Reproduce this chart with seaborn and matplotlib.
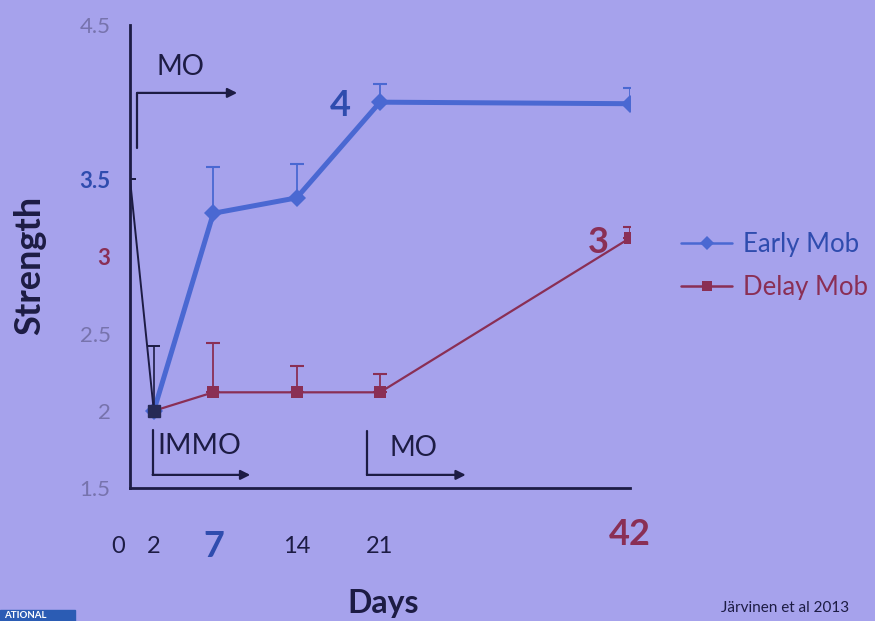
import matplotlib.pyplot as plt
import matplotlib.lines as mlines
import matplotlib.patches as mpatches
from matplotlib.transforms import ScaledTranslation
import seaborn as sns

# values
days = [2, 7, 14, 21, 42]
early_mob = [2.0, 3.28, 3.38, 4.0, 3.99]
early_err = [0.0, 0.30, 0.22, 0.12, 0.10]
delay_mob = [2.0, 2.12, 2.12, 2.12, 3.12]
delay_err = [0.0, 0.32, 0.17, 0.12, 0.07]
base_days = [0, 2]
base_vals = [3.5, 2.0]
base_err = [0.0, 0.42]

xtick_pos = [0, 2, 7, 14, 21, 28, 35, 42]
xtick_lab = ['0', '2', '7', '14', '21', '', '', '42']
ytick_pos = [1.5, 2, 2.5, 3, 3.5, 4, 4.5]
ytick_lab = ['1.5', '2', '2.5', '3', '3.5', '', '4.5']

BG = '#a6a2ec'
NAVY = '#1d1c44'
BLUE = '#4a68d2'
BLUE_TXT = '#2f4cae'
RED = '#8a2f55'
GREY = '#7773ad'

sns.set_theme(style='white', rc={'axes.facecolor': BG, 'figure.facecolor': BG})
plt.rcParams['font.family'] = ['Lato', 'DejaVu Sans']

fig = plt.figure(figsize=(8.75, 6.21), dpi=100)
ax = fig.add_axes([130/875, 1-488/621, 500/875, 463/621])

# early mobilisation (thick blue, diamonds)
sns.lineplot(x=days, y=early_mob, ax=ax, color=BLUE, linewidth=3.6, marker='D',
             markersize=9, markeredgewidth=0, zorder=3)
ax.errorbar(days, early_mob, yerr=[[0]*len(early_err), early_err], fmt='none',
            ecolor=BLUE, elinewidth=1.3, capsize=5, capthick=1.5, zorder=2)

# delayed mobilisation (thin red, squares)
sns.lineplot(x=days, y=delay_mob, ax=ax, color=RED, linewidth=1.6, marker='s',
             markersize=9, markeredgewidth=0, zorder=3)
ax.errorbar(days, delay_mob, yerr=[[0]*len(delay_err), delay_err], fmt='none',
            ecolor=RED, elinewidth=1.3, capsize=5, capthick=1.5, zorder=2)

# baseline drop to immobilisation
sns.lineplot(x=base_days, y=base_vals, ax=ax, color=NAVY, linewidth=1.4, zorder=4)
ax.plot(base_days[1:], base_vals[1:], 's', color='#262a55', markersize=9, zorder=5)
ax.errorbar(base_days, base_vals, yerr=[[0]*len(base_err), base_err], fmt='none',
            ecolor=NAVY, elinewidth=1.2, capsize=4, capthick=1.4, zorder=4)

ax.set_xlim(0, 42)
ax.set_ylim(1.5, 4.5)
for s in ['top', 'right']:
    ax.spines[s].set_visible(False)
for s in ['left', 'bottom']:
    ax.spines[s].set_color(NAVY)
    ax.spines[s].set_linewidth(2)

ax.set_xticks(xtick_pos)
ax.set_xticklabels(xtick_lab)
ax.set_yticks(ytick_pos)
ax.set_yticklabels(ytick_lab)
ax.tick_params(axis='x', direction='out', length=5, width=2, color=NAVY, pad=37,
               labelsize=17, labelcolor=NAVY)
ax.tick_params(axis='y', direction='out', length=5, width=2, color=NAVY, pad=9,
               labelsize=16, labelcolor=GREY)
ax.xaxis.get_major_ticks()[0].tick1line.set_visible(False)
ax.xaxis.get_major_ticks()[1].tick1line.set_visible(False)

for lab in ax.get_xticklabels():
    lab.set_va('center')
    if lab.get_text() == '7':
        lab.set(color=BLUE_TXT, fontsize=26, fontweight='bold')
    elif lab.get_text() == '42':
        lab.set(color=RED, fontsize=26, fontweight='bold')
        lab.set_transform(lab.get_transform() + ScaledTranslation(0, 0.12, fig.dpi_scale_trans))
    elif lab.get_text() == '0':
        lab.set_transform(lab.get_transform() + ScaledTranslation(-0.12, 0, fig.dpi_scale_trans))
for lab in ax.get_yticklabels():
    if lab.get_text() == '3.5':
        lab.set(color=BLUE_TXT, fontweight='bold')
    elif lab.get_text() == '3':
        lab.set(color=RED, fontweight='bold')

# phase brackets
arrow = dict(arrowstyle='-|>', color=NAVY, lw=1.6, mutation_scale=14, shrinkA=0, shrinkB=0)
ax.plot([0.6, 0.6], [3.70, 4.06], color=NAVY, lw=1.6, clip_on=False)
ax.annotate('', xy=(9.0, 4.06), xytext=(0.6, 4.06), arrowprops=arrow)
ax.text(4.2, 4.23, 'MO', fontsize=20, color=NAVY, ha='center', va='center')

ax.plot([1.9, 1.9], [1.585, 1.875], color=NAVY, lw=1.6)
ax.annotate('', xy=(10.1, 1.585), xytext=(1.9, 1.585), arrowprops=arrow)
ax.text(2.3, 1.77, 'IMMO', fontsize=20.5, color=NAVY, ha='left', va='center')

ax.plot([19.9, 19.9], [1.585, 1.87], color=NAVY, lw=1.6)
ax.annotate('', xy=(28.2, 1.585), xytext=(19.9, 1.585), arrowprops=arrow)
ax.text(23.8, 1.76, 'MO', fontsize=20, color=NAVY, ha='center', va='center')

ax.text(17.7, 3.98, '4', fontsize=26, fontweight='bold', color=BLUE_TXT, ha='center', va='center')
ax.text(39.3, 3.09, '3', fontsize=26, fontweight='bold', color=RED, ha='center', va='center')

fig.text(30/875, 1-265/621, 'Strength', rotation=90, fontsize=26, fontweight='bold',
         color=NAVY, ha='center', va='center')
fig.text(383/875, 1-603/621, 'Days', fontsize=23, fontweight='bold', color=NAVY,
         ha='center', va='center')
fig.text(785/875, 1-608/621, 'Järvinen et al 2013', fontsize=11, color=NAVY,
         ha='center', va='center')

h_early = mlines.Line2D([], [], color=BLUE, lw=1.8, marker='D', markersize=7, markeredgewidth=0)
h_delay = mlines.Line2D([], [], color=RED, lw=1.8, marker='s', markersize=7, markeredgewidth=0)
fig.legend([h_early, h_delay], ['Early Mob', 'Delay Mob'], loc='upper left',
           bbox_to_anchor=(668/875, 1-219/621), frameon=False, fontsize=18.5,
           handlelength=2.0, handletextpad=0.4, labelspacing=0.7, borderpad=0,
           labelcolor=[BLUE_TXT, RED])

# cut-off banner in the corner of the photo
fig.patches.append(mpatches.Rectangle((0, 0), 75/875, 11/621, transform=fig.transFigure,
                                      color='#2b5cb4', zorder=0))
fig.text(4/875, 1.5/621, 'ATIONAL', fontsize=7, fontweight='bold', color='white',
         ha='left', va='bottom')

fig.savefig('out.png', dpi=100, facecolor=BG)
